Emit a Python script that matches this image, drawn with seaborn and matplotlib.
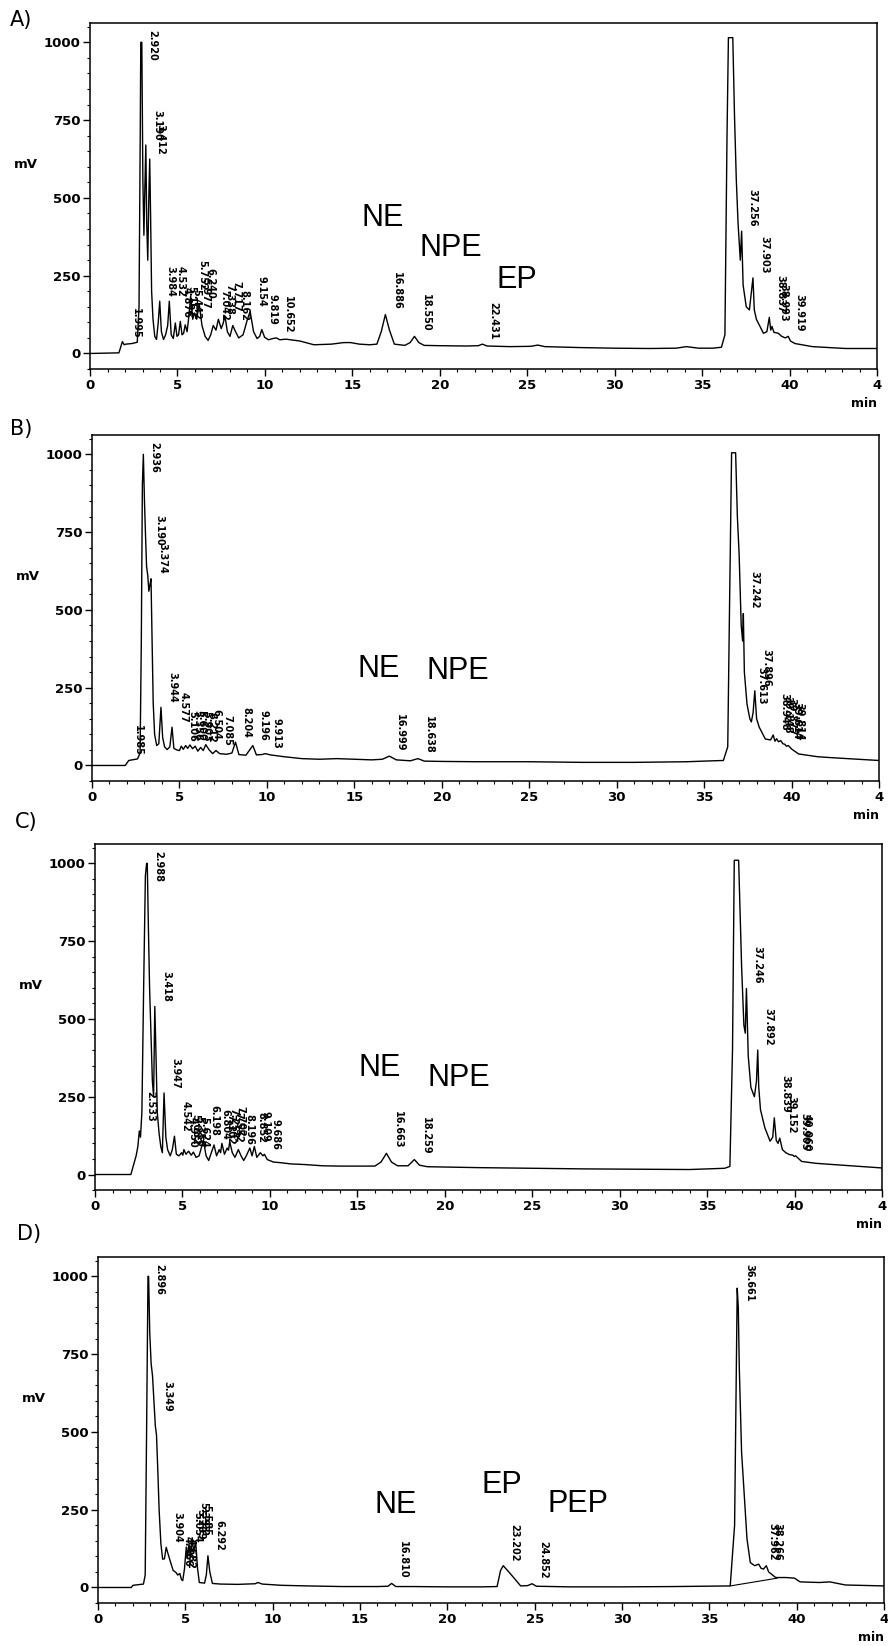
import numpy as np
import pandas as pd
import matplotlib
matplotlib.use("Agg")
import matplotlib.pyplot as plt
import seaborn as sns
from matplotlib.ticker import MultipleLocator

# ---- chromatogram traces (time in min, signal in mV) ----
A_t = [0, 1.65, 1.75, 1.85, 1.95, 2.05, 2.4, 2.7, 2.8, 2.87, 2.9, 2.96, 3.02, 3.08, 3.13,
       3.19, 3.24, 3.3, 3.36, 3.412, 3.46, 3.52, 3.6, 3.7, 3.8, 3.9, 3.984, 4.08, 4.2, 4.32,
       4.44, 4.532, 4.64, 4.76, 4.876, 4.97, 5.06, 5.162, 5.26, 5.35, 5.442, 5.55, 5.65,
       5.752, 5.87, 5.977, 6.1, 6.24, 6.4, 6.58, 6.75, 6.9, 7.042, 7.2, 7.338, 7.5, 7.6,
       7.717, 7.85, 8.0, 8.162, 8.32, 8.5, 8.75, 9.0, 9.154, 9.35, 9.55, 9.7, 9.819, 9.98,
       10.2, 10.45, 10.652, 10.85, 11.2, 11.6, 12.0, 12.8, 13.8, 14.5, 14.9, 15.4, 16.0,
       16.4, 16.65, 16.886, 17.12, 17.4, 18.0, 18.3, 18.55, 18.8, 19.1, 20.0, 21.5, 22.2,
       22.431, 22.7, 24.0, 25.2, 25.6, 26.0, 28.0, 30.0, 32.0, 33.5, 34.1, 34.4, 34.8, 35.6,
       36.1, 36.3, 36.42, 36.5, 36.75, 36.85, 36.95, 37.05, 37.18, 37.256, 37.34, 37.52,
       37.7, 37.82, 37.903, 37.98, 38.1, 38.5, 38.7, 38.837, 38.92, 38.993, 39.1, 39.35,
       39.55, 39.75, 39.919, 40.05, 40.3, 41.3, 43.2, 45.0]
A_mv = [0, 2, 20, 38, 28, 30, 32, 36, 150, 700, 1000, 1000, 560, 380, 520,
        670, 420, 300, 500, 625, 450, 200, 110, 55, 45, 100, 168, 70, 45, 60,
        90, 168, 60, 48, 98, 55, 60, 103, 60, 65, 92, 70, 120,
        185, 110, 130, 110, 160, 90, 55, 42, 60, 90, 75, 110, 80, 95,
        120, 70, 55, 90, 70, 50, 60, 110, 135, 70, 48, 55, 77, 52,
        44, 48, 50, 44, 46, 43, 40, 28, 30, 35, 35, 30, 28,
        30, 70, 125, 75, 30, 26, 35, 55, 35, 26, 25, 24, 25,
        30, 24, 22, 23, 27, 22, 19, 17, 16, 17, 22, 20, 17, 17,
        20, 60, 700, 1015, 1015, 760, 560, 420, 300, 393, 220, 150,
        140, 200, 243, 140, 110, 65, 70, 116, 75, 87, 68, 65,
        55, 50, 55, 40, 32, 22, 16, 16]
A_peaks = ["1.995", "2.920", "3.190", "3.412", "3.984", "4.532", "4.876", "5.162", "5.442",
           "5.752", "5.977", "6.240", "7.042", "7.338", "7.717", "8.162", "9.154", "9.819",
           "10.652", "16.886", "18.550", "22.431", "37.256", "37.903", "38.837", "38.993",
           "39.919"]
A_names = ["NE", "NPE", "EP"]

B_t = [0, 1.9, 2.0, 2.1, 2.3, 2.6, 2.75, 2.82, 2.88, 2.936, 3.0, 3.06, 3.12, 3.19, 3.25,
       3.31, 3.374, 3.43, 3.5, 3.58, 3.7, 3.82, 3.944, 4.04, 4.15, 4.3, 4.45, 4.577, 4.68,
       4.85, 5.0, 5.106, 5.22, 5.356, 5.47, 5.6, 5.75, 5.903, 6.05, 6.212, 6.36, 6.504,
       6.7, 6.9, 7.085, 7.3, 7.7, 8.0, 8.204, 8.4, 8.8, 9.196, 9.4, 9.7, 9.913, 10.2, 11.0,
       12.0, 13.0, 14.0, 15.0, 16.0, 16.6, 16.999, 17.4, 18.2, 18.638, 19.0, 20.0, 22.0,
       25.0, 28.0, 31.0, 34.0, 35.5, 36.1, 36.35, 36.45, 36.57, 36.8, 36.9, 37.0, 37.12,
       37.2, 37.242, 37.3, 37.45, 37.613, 37.7, 37.8, 37.896, 38.0, 38.15, 38.5, 38.8,
       38.948, 39.05, 39.148, 39.25, 39.377, 39.5, 39.614, 39.7, 39.814, 40.0, 40.4, 41.5,
       42.3, 45.0]
B_mv = [0, 0, 8, 16, 18, 21, 40, 400, 900, 1000, 850, 740, 640, 610, 560,
        580, 600, 420, 200, 100, 64, 70, 187, 90, 60, 51, 60, 123, 55,
        50, 48, 62, 52, 64, 55, 66, 54, 62, 46, 58, 48, 67,
        50, 38, 48, 38, 36, 40, 75, 35, 33, 64, 34, 35, 38, 34, 28,
        22, 20, 22, 20, 18, 20, 30, 18, 15, 22, 14, 13, 12,
        12, 10, 10, 12, 15, 16, 60, 500, 1005, 1005, 800, 680, 450,
        400, 488, 300, 198, 150, 140, 170, 240, 150, 123, 85, 82,
        98, 78, 86, 76, 80, 70, 68, 62, 64, 53, 37, 28,
        25, 16]
B_peaks = ["1.985", "2.936", "3.190", "3.374", "3.944", "4.577", "5.106", "5.356", "5.600",
           "5.903", "6.212", "6.504", "7.085", "8.204", "9.196", "9.913", "16.999", "18.638",
           "37.242", "37.613", "37.896", "38.948", "39.148", "39.377", "39.614", "39.814"]
B_names = ["NE", "NPE"]

C_t = [0, 2.05, 2.2, 2.35, 2.45, 2.533, 2.6, 2.68, 2.78, 2.88, 2.95, 2.988, 3.05, 3.12,
       3.2, 3.28, 3.35, 3.418, 3.48, 3.56, 3.66, 3.76, 3.85, 3.947, 4.05, 4.15, 4.3, 4.42,
       4.542, 4.65, 4.8, 4.95, 5.02, 5.082, 5.2, 5.35, 5.5, 5.624, 5.78, 5.95, 6.1, 6.198,
       6.35, 6.5, 6.65, 6.804, 6.95, 7.102, 7.18, 7.254, 7.4, 7.552, 7.63, 7.702, 7.85,
       8.0, 8.196, 8.35, 8.5, 8.65, 8.852, 8.98, 9.109, 9.25, 9.45, 9.6, 9.686, 9.85, 10.2,
       10.6, 11.2, 12.0, 13.0, 14.0, 15.0, 16.0, 16.35, 16.663, 16.95, 17.3, 17.9, 18.259,
       18.55, 19.0, 20.0, 22.0, 25.0, 28.0, 31.0, 34.0, 36.0, 36.3, 36.45, 36.55, 36.8,
       36.97, 37.1, 37.18, 37.246, 37.35, 37.5, 37.7, 37.82, 37.892, 37.95, 38.05, 38.3,
       38.6, 38.75, 38.839, 38.95, 39.05, 39.152, 39.3, 39.5, 39.7, 39.905, 39.98, 40.06,
       40.4, 41.2, 42.2, 45.0]
C_mv = [0, 0, 30, 60, 90, 140, 120, 200, 600, 960, 1000, 1000, 800, 600,
        450, 300, 250, 540, 400, 200, 134, 90, 70, 262, 120, 80, 60, 80,
        123, 65, 60, 70, 62, 80, 65, 75, 62, 72, 55, 60, 90, 110,
        60, 45, 70, 95, 60, 80, 70, 100, 65, 85, 78, 105, 70,
        55, 80, 60, 45, 60, 85, 60, 90, 55, 70, 60, 65, 48, 40,
        38, 34, 32, 28, 27, 27, 27, 40, 68, 40, 28, 28, 48,
        30, 25, 24, 22, 20, 18, 17, 16, 20, 26, 400, 1010, 1010,
        668, 480, 454, 598, 380, 280, 250, 300, 400, 280, 208, 150,
        107, 120, 182, 110, 100, 117, 80, 70, 64, 62, 58, 60,
        42, 36, 32, 21]
C_peaks = ["2.533", "2.988", "3.418", "3.947", "4.542", "4.950", "5.082", "5.350", "5.624",
           "6.198", "6.804", "7.102", "7.254", "7.552", "7.702", "8.196", "8.852", "9.109",
           "9.686", "16.663", "18.259", "37.246", "37.892", "38.839", "39.152", "39.905",
           "40.060"]
C_names = ["NE", "NPE"]

D_t = [0, 1.9, 2.0, 2.3, 2.6, 2.7, 2.78, 2.86, 2.896, 2.96, 3.04, 3.12, 3.2, 3.28, 3.349,
       3.42, 3.5, 3.6, 3.7, 3.8, 3.904, 4.0, 4.16, 4.3, 4.466, 4.56, 4.682, 4.78, 4.85,
       4.95, 5.054, 5.12, 5.209, 5.3, 5.393, 5.48, 5.585, 5.7, 5.8, 6.1, 6.2, 6.292, 6.4,
       6.55, 7.0, 8.0, 9.0, 9.16, 9.4, 10.5, 12.0, 14.0, 16.0, 16.6, 16.81, 17.05, 18.0,
       20.0, 22.0, 22.85, 23.05, 23.202, 23.6, 24.2, 24.6, 24.852, 25.1, 27.0, 30.0, 33.0,
       36.2, 36.45, 36.6, 36.661, 36.72, 36.85, 37.0, 37.16, 37.35, 37.6, 37.83, 37.962,
       38.1, 38.266, 38.4, 38.8, 39.4, 39.88, 40.2, 41.3, 41.9, 42.8, 45.0]
D_mv = [0, 0, 7, 9, 11, 40, 500, 1000, 1000, 820, 720, 680, 600, 520, 489,
        380, 247, 140, 91, 92, 129, 110, 80, 55, 48, 40, 45, 25, 22,
        60, 130, 95, 140, 100, 160, 110, 150, 60, 16, 14, 40, 102, 50,
        13, 11, 10, 12, 16, 11, 7, 5, 3, 3, 4, 13, 3, 3,
        2, 2, 3, 55, 70, 45, 5, 6, 12, 4, 2, 2, 3,
        5, 200, 962, 900, 704, 435, 300, 156, 80, 70, 75, 62,
        59, 70, 50, 32, 32, 30, 18, 16, 18, 8, 5]
D_peaks = ["2.896", "3.349", "3.904", "4.466", "4.682", "5.054", "5.209", "5.393", "5.585",
           "6.292", "16.810", "23.202", "24.852", "36.661", "37.962", "38.266"]
D_names = ["NE", "EP", "PEP"]
# integration baseline under the solvent peak in D
D_base_t = [36.2, 38.9]
D_base_mv = [5, 30]

x_ticks = [0, 5, 10, 15, 20, 25, 30, 35, 40, 45]
x_tick_labels = ["0", "5", "10", "15", "20", "25", "30", "35", "40", "4"]
y_ticks = [0, 250, 500, 750, 1000]

sns.set_style("ticks")
plt.rcParams['font.family'] = ['DejaVu Sans']
plt.rcParams.update({"text.color": "black", "xtick.color": "black",
                     "ytick.color": "black", "axes.edgecolor": "black",
                     "axes.labelcolor": "black"})

fig = plt.figure(figsize=(8.88, 16.46), dpi=100)

# axes boxes (left, bottom, width, height) in figure fractions
boxes = [(0.1014, 0.7758, 0.8863, 0.2102),
         (0.1036, 0.5255, 0.8863, 0.2102),
         (0.1070, 0.2770, 0.8863, 0.2102),
         (0.1104, 0.0261, 0.8850, 0.2102)]
# where the compound names sit (min, mV)
name_pos = [[(16.76, 437), (20.6, 340), (24.4, 235)],
            [(16.4, 311), (20.9, 304)],
            [(16.3, 343), (20.8, 309)],
            [(17.07, 264), (23.1, 328), (27.5, 269)]]
letter_pos = [(21, 20), (21, 429), (26, 822), (29, 1234)]

panels = [("A)", A_t, A_mv, A_peaks, A_names),
          ("B)", B_t, B_mv, B_peaks, B_names),
          ("C)", C_t, C_mv, C_peaks, C_names),
          ("D)", D_t, D_mv, D_peaks, D_names)]

for i, (letter, t, mv, peaks, names) in enumerate(panels):
    ax = fig.add_axes(boxes[i])
    df = pd.DataFrame({"min": t, "mV": mv})
    sns.lineplot(data=df, x="min", y="mV", ax=ax, color="black", linewidth=1.0,
                 estimator=None, sort=False)
    if letter == "D)":
        sns.lineplot(x=D_base_t, y=D_base_mv, ax=ax, color="black", linewidth=0.8,
                     estimator=None)

    ax.set_xlim(0, 45)
    ax.set_ylim(-50, 1062)
    ax.set_xticks(x_ticks)
    ax.set_xticklabels(x_tick_labels)
    ax.set_yticks(y_ticks)
    ax.set_yticklabels([str(v) for v in y_ticks])
    ax.xaxis.set_minor_locator(MultipleLocator(1))
    ax.yaxis.set_minor_locator(MultipleLocator(50))
    ax.tick_params(which="major", direction="out", length=5, width=1.0,
                   labelsize=9.5, pad=2)
    ax.tick_params(which="minor", direction="out", length=2.5, width=0.8)
    for lbl in ax.get_xticklabels() + ax.get_yticklabels():
        lbl.set_fontweight("bold")
    for sp in ax.spines.values():
        sp.set_visible(True)
        sp.set_linewidth(1.1)
        sp.set_color("black")
    ax.set_xlabel("")
    ax.set_ylabel("")
    ax.text(-0.082, 0.592, "mV", transform=ax.transAxes, ha="center", va="center",
            fontsize=9.5, fontweight="bold")
    ax.text(0.983, -0.10, "min", transform=ax.transAxes, ha="center", va="center",
            fontsize=9, fontweight="bold")

    # retention-time labels, rotated, just right of each peak top
    ta = np.array(t, dtype=float)
    va_ = np.array(mv, dtype=float)
    for s in peaks:
        rt = float(s)
        near = np.linspace(rt - 0.1, rt + 0.1, 21)
        top = np.interp(near, ta, va_).max()
        y = min(top + 15, 1050 - len(s) * 22)
        ax.text(rt + 0.35, y, s, rotation=270, ha="left", va="bottom",
                fontsize=7, fontweight="bold")

    for name, (nx, ny) in zip(names, name_pos[i]):
        ax.text(nx, ny, name, ha="center", va="center", fontsize=22,
                family=["Liberation Sans", "DejaVu Sans"])

    lx, ly = letter_pos[i]
    fig.text(lx / 888, 1 - ly / 1646, letter, ha="center", va="center", fontsize=15)

fig.savefig("out.png", dpi=100)
